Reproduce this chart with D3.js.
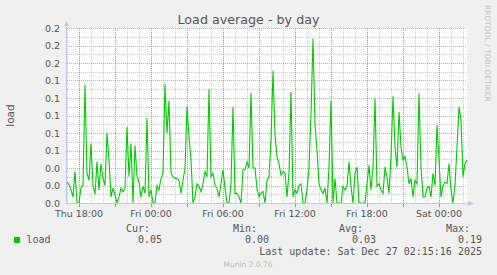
<!DOCTYPE html>
<html>
<head>
<meta charset="utf-8">
<script src="https://cdn.jsdelivr.net/npm/d3@7"></script>
<style>
  body { margin: 0; background: #f0f0f0; }
  text { font-family: "DejaVu Sans", sans-serif; }
  .mono { font-family: "DejaVu Sans Mono", monospace; }
</style>
</head>
<body>
<script>
"use strict";

// load average, one sample every 10 minutes from Thu 17:00
var startTime = new Date(2025, 11, 25, 17, 0, 0);
var endTime = new Date(2025, 11, 27, 2, 20, 0);
var stepMinutes = 10;
var loadValues = [
  0.024, 0.021, 0.015, 0.007, 0.036, 0, 0, 0.018, 0.02, 0.135,
  0.034, 0.026, 0.068, 0.02, 0.01, 0.047, 0.015, 0.045, 0.028, 0.02,
  0.08, 0.049, 0.007, 0.017, 0.009, 0, 0.007, 0.017, 0.013, 0.017,
  0.087, 0.03, 0.068, 0, 0.066, 0.03, 0.024, 0.007, 0.019, 0.011,
  0.097, 0.007, 0.015, 0, 0, 0.02, 0.015, 0.028, 0.034, 0.136,
  0.08, 0.117, 0.034, 0.03, 0.028, 0.028, 0.026, 0.011, 0.026, 0.04,
  0.11, 0.076, 0.049, 0, 0.007, 0.022, 0.019, 0.013, 0.022, 0.036,
  0.03, 0.13, 0.03, 0.034, 0.02, 0.017, 0.007, 0.022, 0.038, 0.017,
  0, 0, 0.022, 0.11, 0.011, 0.011, 0.007, 0, 0.038, 0.038,
  0.047, 0.04, 0.126, 0.04, 0.04, 0.016, 0.007, 0.011, 0.013, 0,
  0.026, 0.03, 0.072, 0.151, 0.078, 0.053, 0.045, 0.032, 0.036, 0.034,
  0.007, 0.034, 0.127, 0.007, 0.015, 0.011, 0.02, 0.022, 0, 0,
  0.015, 0.041, 0.102, 0.188, 0.09, 0.06, 0.022, 0.015, 0.011, 0.017,
  0, 0.041, 0.117, 0, 0.028, 0, 0, 0, 0.019, 0.015,
  0.019, 0.047, 0.019, 0, 0.034, 0.041, 0, 0, 0, 0,
  0.022, 0.043, 0.015, 0.04, 0.119, 0.019, 0.022, 0.015, 0.011, 0.041,
  0.03, 0.011, 0.053, 0.122, 0.064, 0.041, 0.104, 0.064, 0.049, 0.053,
  0.041, 0.022, 0.028, 0.007, 0.026, 0.022, 0.125, 0.041, 0.007, 0.007,
  0.017, 0.019, 0.007, 0.034, 0.02, 0.089, 0.05, 0.007, 0.02, 0.024,
  0.022, 0.045, 0.015, 0, 0.02, 0.064, 0.11, 0.095, 0.03, 0.045, 0.049
];
var yMax = 0.2;

// legend
var seriesName = "load";
var legendHeads = ["Cur:", "Min:", "Avg:", "Max:"];
var legendValues = ["0.05", "0.00", "0.03", "0.19"];
var lastUpdate = "Last update: Sat Dec 27 02:15:16 2025";

(function() {
  window.addEventListener('load', init);

  function init() {
    var W = 497, H = 275;
    var left = 67, right = 467, top = 28, bottom = 203;

    var svg = d3.select('body').append('svg')
      .attr('width', W)
      .attr('height', H);

    // canvas
    svg.append('rect')
      .attr('x', left).attr('y', top)
      .attr('width', right - left).attr('height', bottom - top)
      .attr('fill', '#ffffff');

    var x = d3.scaleTime().domain([startTime, endTime]).range([left, right]);
    var y = d3.scaleLinear().domain([0, yMax]).range([bottom, top]);

    var minorCol = 'rgba(140,140,140,0.45)';
    var majorCol = 'rgba(225,80,80,0.55)';

    // horizontal grid
    var yMinor = y.ticks(20).filter(function(d, i) { return i % 2 == 1; });
    var yMajor = y.ticks(10);
    svg.selectAll('.hmin').data(yMinor).enter().append('line')
      .attr('x1', left).attr('x2', right)
      .attr('y1', function(d) { return Math.round(y(d)) + 0.5; })
      .attr('y2', function(d) { return Math.round(y(d)) + 0.5; })
      .attr('stroke', minorCol).attr('stroke-dasharray', '1,1');

    // vertical grid, one hour minor / three hours major
    var hours = x.ticks(d3.timeHour.every(1));
    var hours3 = x.ticks(d3.timeHour.every(3));
    svg.selectAll('.vmin').data(hours).enter().append('line')
      .attr('x1', function(d) { return Math.round(x(d)) + 0.5; })
      .attr('x2', function(d) { return Math.round(x(d)) + 0.5; })
      .attr('y1', top).attr('y2', bottom)
      .attr('stroke', minorCol).attr('stroke-dasharray', '1,1');

    svg.selectAll('.hmaj').data(yMajor).enter().append('line')
      .attr('x1', left).attr('x2', right)
      .attr('y1', function(d) { return Math.round(y(d)) + 0.5; })
      .attr('y2', function(d) { return Math.round(y(d)) + 0.5; })
      .attr('stroke', majorCol).attr('stroke-dasharray', '1,1');
    svg.selectAll('.vmaj').data(hours3).enter().append('line')
      .attr('x1', function(d) { return Math.round(x(d)) + 0.5; })
      .attr('x2', function(d) { return Math.round(x(d)) + 0.5; })
      .attr('y1', top).attr('y2', bottom)
      .attr('stroke', majorCol).attr('stroke-dasharray', '1,1');

    // tick marks under the x axis
    svg.selectAll('.xtick').data(hours3).enter().append('line')
      .attr('x1', function(d) { return Math.round(x(d)) + 0.5; })
      .attr('x2', function(d) { return Math.round(x(d)) + 0.5; })
      .attr('y1', bottom + 1).attr('y2', bottom + 4)
      .attr('stroke', 'rgba(225,80,80,0.8)');

    // the data line
    var data = loadValues.map(function(v, i) {
      return {t: d3.timeMinute.offset(startTime, i * stepMinutes), v: v};
    });
    var line = d3.line()
      .x(function(d) { return x(d.t); })
      .y(function(d) { return y(d.v); });
    svg.append('path')
      .datum(data)
      .attr('d', line)
      .attr('fill', 'none')
      .attr('stroke', '#00cc00')
      .attr('stroke-width', 1.1)
      .attr('stroke-linejoin', 'miter');

    // axes with arrows
    var axisCol = '#c4c8f0';
    svg.append('line')
      .attr('x1', left - 0.5).attr('x2', left - 0.5)
      .attr('y1', bottom + 1).attr('y2', top - 4)
      .attr('stroke', axisCol);
    svg.append('line')
      .attr('x1', left - 1).attr('x2', right + 2)
      .attr('y1', bottom + 0.5).attr('y2', bottom + 0.5)
      .attr('stroke', axisCol);
    svg.append('path')
      .attr('d', 'M' + (left - 3) + ',' + (top - 2) + 'L' + (left - 0.5) + ',' + (top - 7) + 'L' + (left + 2) + ',' + (top - 2) + 'Z')
      .attr('fill', axisCol);
    svg.append('path')
      .attr('d', 'M' + (right + 1) + ',' + (bottom - 2) + 'L' + (right + 7) + ',' + (bottom + 0.5) + 'L' + (right + 1) + ',' + (bottom + 3) + 'Z')
      .attr('fill', axisCol);

    // y tick labels
    var fmtY = d3.format('.1f');
    svg.selectAll('.ylab').data(yMajor).enter().append('text')
      .attr('x', left - 7)
      .attr('y', function(d) { return y(d) + 3.5; })
      .attr('text-anchor', 'end')
      .attr('font-size', 9.5)
      .attr('fill', '#555')
      .text(function(d) { return fmtY(d); });

    // x tick labels every six hours
    var fmtX = d3.timeFormat('%a %H:%M');
    svg.selectAll('.xlab').data(x.ticks(d3.timeHour.every(6))).enter().append('text')
      .attr('x', function(d) { return x(d); })
      .attr('y', 216.5)
      .attr('text-anchor', 'middle')
      .attr('font-size', 9.5)
      .attr('fill', '#555')
      .text(function(d) { return fmtX(d); });

    // title and side labels
    svg.append('text')
      .attr('x', W / 2).attr('y', 23.5)
      .attr('text-anchor', 'middle')
      .attr('font-size', 12.7)
      .attr('fill', '#555')
      .text('Load average - by day');
    svg.append('text')
      .attr('transform', 'translate(14,' + ((top + bottom) / 2) + ') rotate(-90)')
      .attr('text-anchor', 'middle')
      .attr('font-size', 10.5)
      .attr('fill', '#555')
      .text('load');
    svg.append('text')
      .attr('transform', 'translate(485,5) rotate(90)')
      .attr('font-size', 7.5)
      .attr('fill', '#c4c4c4')
      .text('RRDTOOL / TOBI OETIKER');

    // legend
    var headX = [150, 257, 363, 470];
    var valX = [162, 269, 376, 482];
    svg.selectAll('.lhead').data(legendHeads).enter().append('text')
      .attr('class', 'mono')
      .attr('x', function(d, i) { return headX[i]; })
      .attr('y', 231.5)
      .attr('text-anchor', 'end')
      .attr('font-size', 10)
      .attr('fill', '#555')
      .text(function(d) { return d; });
    svg.append('rect')
      .attr('x', 14).attr('y', 237)
      .attr('width', 6).attr('height', 6)
      .attr('fill', '#00cc00');
    svg.append('text')
      .attr('class', 'mono')
      .attr('x', 26.5).attr('y', 243)
      .attr('font-size', 10)
      .attr('fill', '#555')
      .text(seriesName);
    svg.selectAll('.lval').data(legendValues).enter().append('text')
      .attr('class', 'mono')
      .attr('x', function(d, i) { return valX[i]; })
      .attr('y', 243)
      .attr('text-anchor', 'end')
      .attr('font-size', 10)
      .attr('fill', '#555')
      .text(function(d) { return d; });
    svg.append('text')
      .attr('class', 'mono')
      .attr('x', 482).attr('y', 255)
      .attr('text-anchor', 'end')
      .attr('font-size', 10)
      .attr('fill', '#555')
      .text(lastUpdate);
    svg.append('text')
      .attr('x', 248).attr('y', 266.5)
      .attr('text-anchor', 'middle')
      .attr('font-size', 7.5)
      .attr('fill', '#bbb')
      .text('Munin 2.0.76');
  }
})();
</script>
</body>
</html>
